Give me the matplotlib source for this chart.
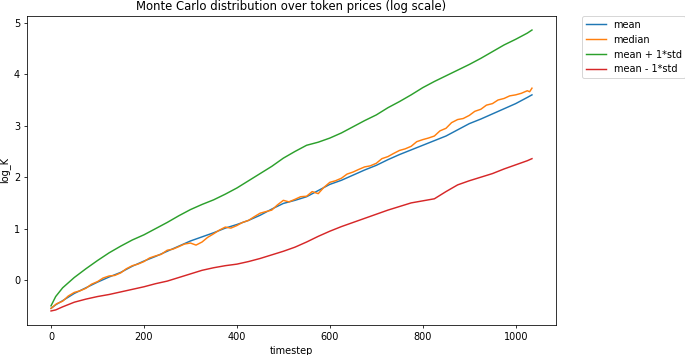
import matplotlib
matplotlib.use('Agg')
import matplotlib.pyplot as plt

timestep = [0, 10, 25, 50, 75, 100, 125, 150, 175, 200, 225, 250, 275, 300, 325,
            350, 375, 400, 425, 450, 475, 500, 525, 550, 575, 600, 625, 650, 675,
            700, 725, 750, 775, 800, 825, 850, 875, 900, 925, 950, 975, 1000,
            1025, 1035]

mean = [-0.55, -0.48, -0.40, -0.26, -0.15, -0.04, 0.06, 0.15, 0.27, 0.37, 0.46,
        0.56, 0.66, 0.76, 0.84, 0.92, 1.01, 1.08, 1.16, 1.26, 1.38, 1.49, 1.55,
        1.62, 1.74, 1.86, 1.94, 2.04, 2.14, 2.23, 2.34, 2.44, 2.53, 2.62, 2.71,
        2.80, 2.92, 3.04, 3.13, 3.23, 3.33, 3.43, 3.55, 3.60]

mean_plus_std = [-0.50, -0.32, -0.15, 0.05, 0.22, 0.38, 0.53, 0.66, 0.78, 0.88,
                 1.00, 1.12, 1.25, 1.37, 1.47, 1.56, 1.67, 1.79, 1.93, 2.07, 2.21,
                 2.37, 2.50, 2.62, 2.68, 2.76, 2.86, 2.98, 3.10, 3.21, 3.35, 3.47,
                 3.60, 3.74, 3.86, 3.97, 4.08, 4.19, 4.31, 4.44, 4.57, 4.68, 4.80,
                 4.86]

mean_minus_std = [-0.60, -0.58, -0.52, -0.43, -0.37, -0.32, -0.28, -0.23, -0.18,
                  -0.13, -0.07, -0.02, 0.05, 0.12, 0.19, 0.24, 0.28, 0.31, 0.36,
                  0.42, 0.49, 0.56, 0.64, 0.74, 0.85, 0.95, 1.04, 1.12, 1.20, 1.28,
                  1.36, 1.43, 1.50, 1.54, 1.58, 1.72, 1.85, 1.93, 2.00, 2.07, 2.16,
                  2.24, 2.32, 2.36]

# median is noisier, read at a finer step
median_step = [0, 12, 25, 37, 50, 62, 75, 87, 100, 112, 125, 137, 150, 162, 175,
               187, 200, 212, 225, 237, 250, 262, 275, 287, 300, 312, 325, 337,
               350, 362, 375, 387, 400, 412, 425, 437, 450, 462, 475, 487, 500,
               512, 525, 537, 550, 562, 575, 587, 600, 612, 625, 637, 650, 662,
               675, 687, 700, 712, 725, 737, 750, 762, 775, 787, 800, 812, 825,
               837, 850, 862, 875, 887, 900, 912, 925, 937, 950, 962, 975, 987,
               1000, 1012, 1025, 1030, 1035]

median = [-0.55, -0.46, -0.41, -0.31, -0.24, -0.21, -0.16, -0.08, -0.03, 0.04,
          0.08, 0.09, 0.14, 0.22, 0.28, 0.31, 0.36, 0.43, 0.47, 0.50, 0.58, 0.60,
          0.65, 0.70, 0.72, 0.68, 0.74, 0.83, 0.90, 0.97, 1.03, 1.01, 1.06, 1.12,
          1.16, 1.23, 1.30, 1.33, 1.36, 1.46, 1.55, 1.52, 1.57, 1.62, 1.63, 1.72,
          1.68, 1.80, 1.90, 1.93, 1.98, 2.06, 2.10, 2.15, 2.20, 2.22, 2.27, 2.36,
          2.40, 2.46, 2.52, 2.55, 2.60, 2.69, 2.73, 2.76, 2.80, 2.90, 2.95, 3.06,
          3.12, 3.14, 3.20, 3.28, 3.32, 3.40, 3.43, 3.50, 3.53, 3.58, 3.60, 3.63,
          3.68, 3.66, 3.73]

fig = plt.figure(figsize=(685 / 70, 355 / 70), dpi=70)
ax = fig.add_axes([0.0394, 0.0845, 0.7723, 0.8705])

ax.plot(timestep, mean, label='mean')
ax.plot(median_step, median, label='median')
ax.plot(timestep, mean_plus_std, label='mean + 1*std')
ax.plot(timestep, mean_minus_std, label='mean - 1*std')

ax.set_title('Monte Carlo distribution over token prices (log scale)')
ax.set_xlabel('timestep')
ax.set_ylabel('log_K')
ax.legend(bbox_to_anchor=(1.05, 1), loc=2, borderaxespad=0.)

fig.savefig('out.png', dpi=70)
